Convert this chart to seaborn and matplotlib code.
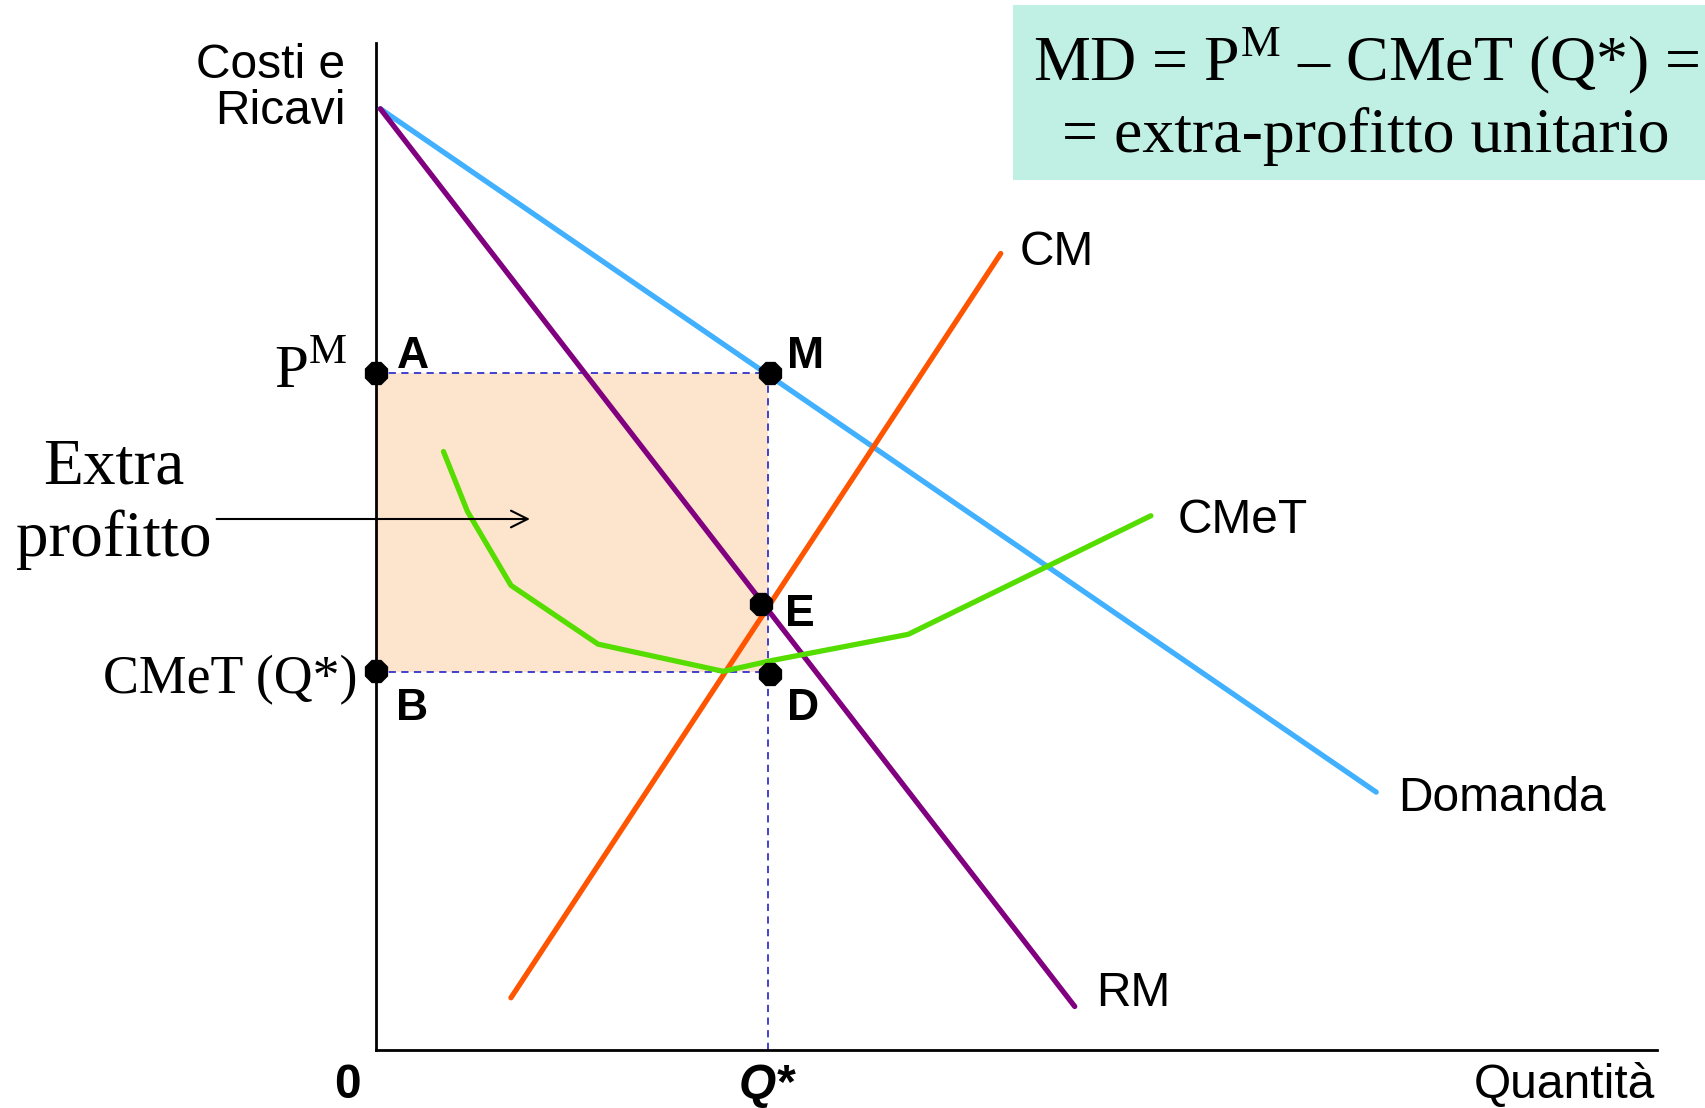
import numpy as np
import pandas as pd
import matplotlib
matplotlib.use('Agg')
from matplotlib import pyplot as plt
from matplotlib.patches import Rectangle
import seaborn as sns

# curve data (quantità, costi/ricavi)
domanda_q = [0.04, 9.19]
domanda_p = [8.65, 2.37]
rm_q = [0.04, 6.42]
rm_p = [8.65, 0.40]
cm_q = [1.24, 5.74]
cm_p = [0.48, 7.32]
cmet_q = [0.62, 0.84, 1.24, 2.04, 3.19, 3.64, 4.89, 7.12]
cmet_p = [5.50, 4.95, 4.27, 3.73, 3.48, 3.58, 3.82, 4.91]

# key values
q_star = 3.60
p_m = 6.22
cmet_qstar = 3.47
punti = ['A', 'M', 'E', 'D', 'B']
punti_q = [0.0, 3.62, 3.54, 3.62, 0.0]
punti_p = [6.22, 6.22, 4.10, 3.46, 3.48]

sns.set_style('white')
plt.rcParams['font.family'] = ['Liberation Sans', 'DejaVu Sans']
plt.rcParams['text.color'] = 'black'
plt.rcParams['mathtext.fontset'] = 'custom'
plt.rcParams['mathtext.rm'] = 'Liberation Serif'

fig = plt.figure(figsize=(17.06, 11.08), dpi=100)
ax = fig.add_axes([376 / 1706, 58 / 1108, 1281 / 1706, 1006.5 / 1108])
ax.set_xlim(0, 11.77)
ax.set_ylim(0, 9.25)
ax.patch.set_alpha(0)

# shaded extra-profit area
ax.fill_between([0, q_star], cmet_qstar, p_m, color='#FDE4CC', zorder=1, lw=0)

# dashed guides
ax.plot([0, q_star], [p_m, p_m], ls=(0, (4, 3)), color='#3333CC', lw=1.3, zorder=2)
ax.plot([0, q_star], [cmet_qstar, cmet_qstar], ls=(0, (4, 3)), color='#3333CC', lw=1.3, zorder=2)
ax.plot([q_star, q_star], [0, p_m], ls=(0, (4, 3)), color='#3333CC', lw=1.3, zorder=2)

lw = 3.8
sns.lineplot(x=domanda_q, y=domanda_p, color='#40B0FF', lw=lw, ax=ax, zorder=3)
sns.lineplot(x=rm_q, y=rm_p, color='#800080', lw=lw, ax=ax, zorder=3)
sns.lineplot(x=cm_q, y=cm_p, color='#FF5500', lw=lw, ax=ax, zorder=3)
sns.lineplot(x=cmet_q, y=cmet_p, color='#55DD00', lw=lw, ax=ax, zorder=3, sort=False)

sns.scatterplot(x=punti_q, y=punti_p, marker='8', s=330, color='black', ax=ax,
                zorder=5, linewidth=0, clip_on=False)

ax.set_xticks([])
ax.set_yticks([])
for s in ['top', 'right']:
    ax.spines[s].set_visible(False)
for s in ['left', 'bottom']:
    ax.spines[s].set_color('black')
    ax.spines[s].set_linewidth(2)
ax.set_xlabel('')
ax.set_ylabel('')

fs = 34.5
ax.text(-0.28, 9.25, 'Costi e\nRicavi', ha='right', va='top', fontsize=fs,
        multialignment='right', linespacing=1.0)
ax.text(5.91, 7.33, 'CM', ha='left', va='center', fontsize=fs)
ax.text(7.37, 4.87, 'CMeT', ha='left', va='center', fontsize=fs)
ax.text(9.39, 2.31, 'Domanda', ha='left', va='center', fontsize=fs)
ax.text(6.62, 0.52, 'RM', ha='left', va='center', fontsize=fs)
ax.text(-0.26, -0.33, '0', ha='center', va='center', fontsize=fs, fontweight='bold', clip_on=False)
ax.text(3.59, -0.33, 'Q*', ha='center', va='center', fontsize=fs, fontweight='bold',
        fontstyle='italic', clip_on=False)
ax.text(11.75, -0.33, 'Quantità', ha='right', va='center', fontsize=fs, clip_on=False)

lab_pos = {'A': (0.19, 6.37), 'M': (3.78, 6.37), 'E': (3.76, 4.00),
           'D': (3.78, 3.14), 'B': (0.18, 3.14)}
for p in punti:
    x, y = lab_pos[p]
    ax.text(x, y, p, ha='left', va='center', fontsize=32, fontweight='bold', zorder=6)

serif = ['Liberation Serif', 'DejaVu Serif']
ax.text(-0.26, 6.08, 'P$^{\\mathrm{M}}$', ha='right', va='baseline', fontsize=44, family=serif)
ax.text(-0.17, 3.40, 'CMeT (Q*)', ha='right', va='center', fontsize=38.7, family=serif)
ax.text(-2.41, 5.35, 'Extra', ha='center', va='center', fontsize=47, family=serif)
ax.text(-2.41, 4.69, 'profitto', ha='center', va='center', fontsize=47, family=serif)
ax.annotate('', xy=(1.44, 4.88), xytext=(-1.49, 4.88),
            arrowprops=dict(arrowstyle='->', color='black', lw=1.5,
                            mutation_scale=30), annotation_clip=False, zorder=4)

# formula box
fig.patches.append(Rectangle((1013 / 1706, 1 - 180 / 1108), 1 - 1013 / 1706, 175 / 1108,
                             transform=fig.transFigure, facecolor='#BFF0E3',
                             edgecolor='none', zorder=0))
fig.text(1366 / 1706, 1 - 80 / 1108, 'MD = P$^{\\mathrm{M}}$ – CMeT (Q*) =', ha='center',
         va='baseline', fontsize=46, family=serif)
fig.text(1366 / 1706, 1 - 152 / 1108, '= extra-profitto unitario', ha='center',
         va='baseline', fontsize=46, family=serif)

fig.savefig('out.png', dpi=100)
